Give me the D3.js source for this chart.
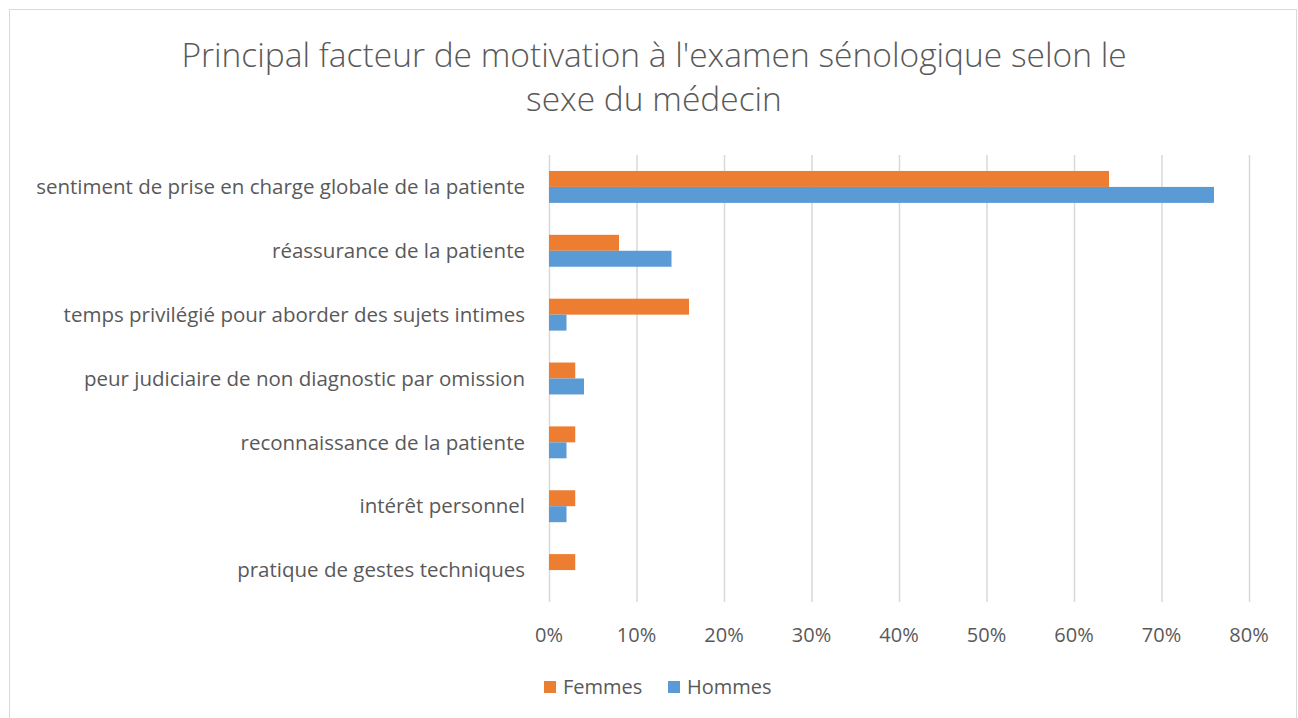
<!DOCTYPE html>
<html>
<head>
<meta charset="utf-8">
<script src="https://cdn.jsdelivr.net/npm/d3@7"></script>
<style>
  body { margin: 0; background: #fff; }
  svg text { font-family: "Open Sans", sans-serif; fill: #595959; }
</style>
</head>
<body>
<svg id="chart" width="1298" height="718"></svg>
<script>
const categories = [
  "sentiment de prise en charge globale de la patiente",
  "réassurance de la patiente",
  "temps privilégié pour aborder des sujets intimes",
  "peur judiciaire de non diagnostic par omission",
  "reconnaissance de la patiente",
  "intérêt personnel",
  "pratique de gestes techniques"
]
const seriesNames = ["Femmes", "Hommes"]
const femmes = [64, 8, 16, 3, 3, 3, 3]
const hommes = [76, 14, 2, 4, 2, 2, 0]
const xTicks = [0, 10, 20, 30, 40, 50, 60, 70, 80]
const colors = ["#ED7D31", "#5B9BD5"]

// ******** setup ********
let margin = { top: 155, right: 49, bottom: 116, left: 549 }
let width = 1298 - margin.left - margin.right
let height = 718 - margin.top - margin.bottom

let svg = d3.select("#chart")

// outer frame
svg.append("rect")
  .attr("x", 9.5).attr("y", 9.5)
  .attr("width", 1287).attr("height", 720)
  .attr("fill", "none")
  .attr("stroke", "#d9d9d9")

let chart = svg.append("g")
  .attr("transform", "translate(" + margin.left + "," + margin.top + ")")

let x = d3.scaleLinear().domain([0, 80]).range([0, width])

let y = d3.scaleBand().domain(categories).range([0, height]).paddingInner(0.5).paddingOuter(0.25)
let ySub = d3.scaleBand().domain(seriesNames).range([0, y.bandwidth()])

let rows = categories.map(function(c, i) {
  return { cat: c, values: [femmes[i], hommes[i]] }
})

// gridlines
chart.append("g")
  .selectAll("line")
  .data(xTicks)
  .enter()
  .append("line")
  .attr("x1", d => x(d) + 0.5).attr("x2", d => x(d) + 0.5)
  .attr("y1", 0).attr("y2", height)
  .attr("stroke", "#d9d9d9")
  .attr("stroke-width", 1.5)

// bars
chart.selectAll(".row")
  .data(rows)
  .enter()
  .append("g")
  .attr("class", "row")
  .attr("transform", d => "translate(0," + y(d.cat) + ")")
  .selectAll("rect")
  .data(d => d.values.map((v, j) => ({ key: seriesNames[j], v: v, j: j })))
  .enter()
  .append("rect")
  .attr("x", x(0))
  .attr("y", d => ySub(d.key))
  .attr("width", d => x(d.v) - x(0))
  .attr("height", ySub.bandwidth())
  .attr("fill", d => colors[d.j])

// x axis labels
chart.append("g")
  .selectAll("text")
  .data(xTicks)
  .enter()
  .append("text")
  .attr("x", d => x(d))
  .attr("y", height + 40)
  .attr("text-anchor", "middle")
  .attr("font-size", 20)
  .text(d => d + "%")

// category labels
chart.append("g")
  .selectAll("text")
  .data(categories)
  .enter()
  .append("text")
  .attr("x", -24)
  .attr("y", d => y(d) + y.bandwidth() / 2)
  .attr("dy", "0.35em")
  .attr("text-anchor", "end")
  .attr("font-size", 20.5)
  .text(d => d)

// title
svg.append("text")
  .attr("x", 654).attr("y", 67)
  .attr("text-anchor", "middle")
  .attr("font-size", 33.5)
  .attr("font-weight", 300)
  .text("Principal facteur de motivation à l'examen sénologique selon le")
svg.append("text")
  .attr("x", 654).attr("y", 111)
  .attr("text-anchor", "middle")
  .attr("font-size", 33.5)
  .attr("font-weight", 300)
  .text("sexe du médecin")

// legend
let legend = svg.append("g").attr("transform", "translate(544,678)")
let lx = [0, 124]
seriesNames.forEach(function(s, i) {
  legend.append("rect")
    .attr("x", lx[i]).attr("y", 3)
    .attr("width", 12).attr("height", 12)
    .attr("fill", colors[i])
  legend.append("text")
    .attr("x", lx[i] + 19).attr("y", 16)
    .attr("font-size", 20)
    .text(s)
})
</script>
</body>
</html>
